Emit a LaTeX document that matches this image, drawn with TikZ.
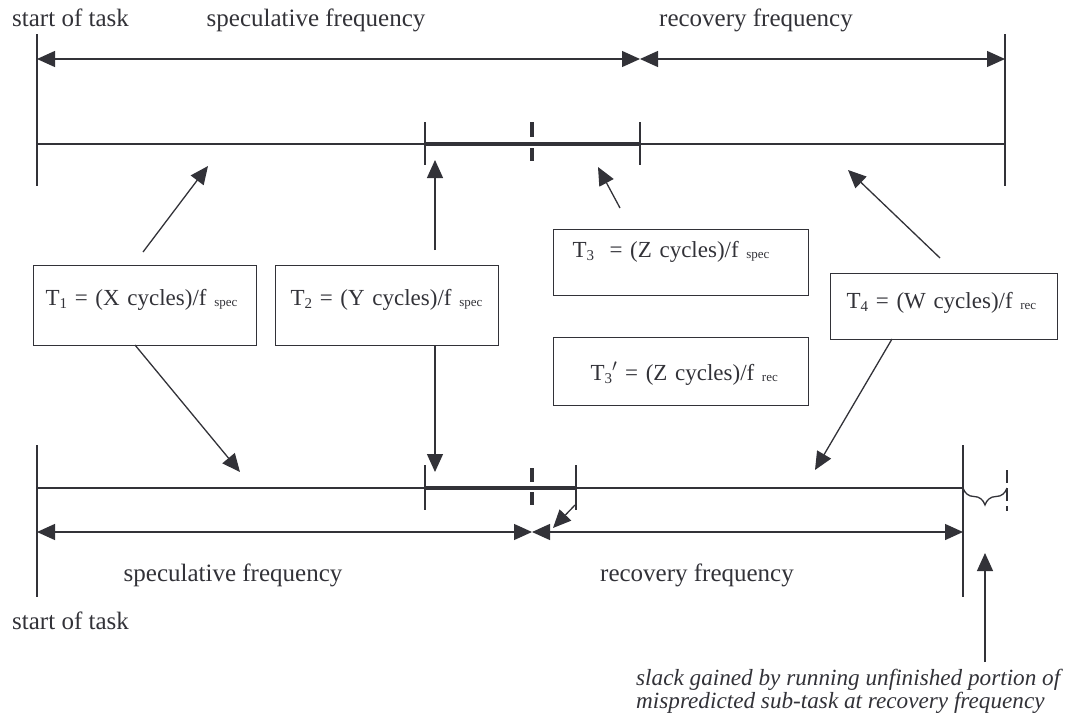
\documentclass[tikz,border=0pt]{standalone}
\usepackage{fontspec}
\setmainfont{Liberation Serif}
\usetikzlibrary{arrows.meta,decorations.pathreplacing}
\definecolor{ink}{RGB}{50,50,56}
\newcommand\lo[1]{\raisebox{-3pt}{\fontsize{15}{15}\selectfont #1}}
\newcommand\sm[1]{\raisebox{-1pt}{\fontsize{13}{13}\selectfont #1}}
\tikzset{
  thin line/.style={draw=ink, line width=1.3pt},
  bar/.style={draw=ink, line width=4.6pt},
  mark line/.style={draw=ink, line width=3.4pt},
  head/.tip={Triangle[length=18pt,width=16pt]},
  pointer/.style={thin line, -head},
  span/.style={thin line, head-head},
  lbl/.style={text=ink, font=\fontsize{25}{30}\selectfont, inner sep=0pt},
  eqbox/.style={thin line, text=ink, font=\fontsize{23}{28}\selectfont,
    anchor=north west, align=left, inner sep=0pt}
}
\begin{document}
\begin{tikzpicture}[x=1pt,y=-1pt]
\useasboundingbox (0,0) rectangle (1071,723);

% ---------- upper time line (speculation succeeds) ----------
\coordinate (u0) at (37,144);
\coordinate (u1) at (1005,144);
\coordinate (ua) at (425,144);
\coordinate (ub) at (640,144);
\draw[thin line] (u0) -- (u1);
\draw[thin line] (37,34) -- (37,186);
\draw[thin line] (1005,34) -- (1005,186);
\draw[bar] (ua) -- (ub);
\draw[thin line] (425,122) -- (425,165);
\draw[thin line] (640,122) -- (640,165);
\draw[mark line] (532,122) -- (532,137);
\draw[mark line] (532,148) -- (532,161);

\coordinate (us) at (37,59);
\coordinate (um) at (640,59);
\coordinate (ue) at (1005,59);
\draw[span] (us) -- (um);
\draw[span] (um) -- (ue);

\node[lbl, anchor=base west] (st1) at (12,26) {start of task};
\node[lbl, anchor=base] (sf1) at (316,26) {speculative frequency};
\node[lbl, anchor=base] (rf1) at (756,26) {recovery frequency};

% ---------- lower time line (misprediction) ----------
\coordinate (l0) at (37,488);
\coordinate (l1) at (963,488);
\coordinate (la) at (425,488);
\coordinate (lb) at (576,488);
\draw[thin line] (l0) -- (l1);
\draw[thin line] (37,445) -- (37,597);
\draw[thin line] (963,445) -- (963,597);
\draw[bar] (la) -- (lb);
\draw[thin line] (425,465) -- (425,510);
\draw[thin line] (576,465) -- (576,510);
\draw[mark line] (532,468) -- (532,482);
\draw[mark line] (532,492) -- (532,505);

\coordinate (ls) at (37,532);
\coordinate (lm) at (532,532);
\coordinate (le) at (963,532);
\draw[span] (ls) -- (lm);
\draw[span] (lm) -- (le);

% slack after the end of the task
\coordinate (ba) at (963,488);
\coordinate (bb) at (1007,488);
\draw[thin line, decorate, decoration={brace, mirror, amplitude=17pt}] (ba) -- (bb);
\draw[thin line, dash pattern=on 13pt off 5pt] (1007,470) -- (1007,511);

\node[lbl, anchor=base] (sf2) at (233,581) {speculative frequency};
\node[lbl, anchor=base] (rf2) at (697,581) {recovery frequency};
\node[lbl, anchor=base west] (st2) at (12,629) {start of task};

\node[lbl, anchor=base west, align=left, font=\fontsize{23.2}{23}\selectfont\itshape] (note) at (636,708)
  {slack gained by running unfinished portion of\\mispredicted sub-task at recovery frequency};
\coordinate (nt) at (985,662);
\coordinate (nh) at (985,553);
\draw[pointer] (nt) -- (nh);

% ---------- duration boxes ----------
\node[eqbox, text width=223pt, text height=40pt, text depth=40pt] (t1) at (33,265)
  {\hspace*{12pt}T\lo{1} = (X cycles)/f \sm{spec}};
\node[eqbox, text width=223pt, text height=40pt, text depth=40pt] (t2) at (275,265)
  {\hspace*{15pt}T\lo{2} = (Y cycles)/f \sm{spec}};
\node[eqbox, text width=255pt, text height=28pt, text depth=38pt] (t3) at (553,229)
  {\hspace*{19pt}T\lo{3}\ \ = (Z cycles)/f \sm{spec}};
\node[eqbox, text width=227pt, text height=35pt, text depth=31pt] (t4) at (830,273)
  {\hspace*{16pt}T\lo{4} = (W cycles)/f \sm{rec}};
\node[eqbox, text width=255pt, text height=43pt, text depth=25pt] (t3p) at (553,337)
  {\hspace*{37pt}T\lo{3}$'$ = (Z cycles)/f \sm{rec}};

% ---------- pointers from boxes to the time lines ----------
\coordinate (p1a) at (143,252);  \coordinate (p1b) at (208,166);
\coordinate (p1c) at (135,345);  \coordinate (p1d) at (240,472);
\coordinate (p2a) at (435,250);  \coordinate (p2b) at (435,160);
\coordinate (p2c) at (435,345);  \coordinate (p2d) at (435,472);
\coordinate (p3a) at (620,208);  \coordinate (p3b) at (598,167);
\coordinate (p3c) at (575,505);  \coordinate (p3d) at (553,528);
\coordinate (p4a) at (940,258);  \coordinate (p4b) at (848,170);
\coordinate (p4c) at (892,339);  \coordinate (p4d) at (815,470);
\draw[pointer] (p1a) -- (p1b);
\draw[pointer] (p1c) -- (p1d);
\draw[pointer] (p2a) -- (p2b);
\draw[pointer] (p2c) -- (p2d);
\draw[pointer] (p3a) -- (p3b);
\draw[pointer] (p3c) -- (p3d);
\draw[pointer] (p4a) -- (p4b);
\draw[pointer] (p4c) -- (p4d);
\end{tikzpicture}
\end{document}
